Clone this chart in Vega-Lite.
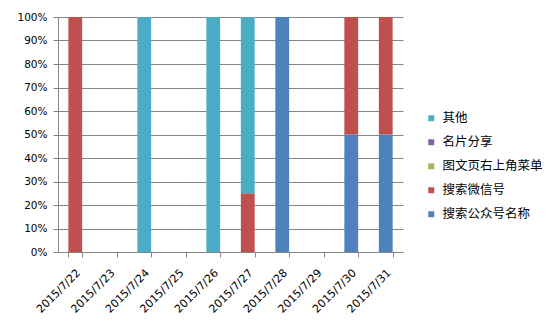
{
  "$schema": "https://vega.github.io/schema/vega-lite/v6.json",
  "autosize": {"type": "none"},
  "width": 345,
  "height": 235,
  "padding": {"left": 58, "top": 17, "right": 156, "bottom": 82},
  "background": "white",
  "config": {
    "view": {"stroke": null},
    "font": "DejaVu Sans"
  },
  "data": {
    "values": [
      {"date": "2015/7/22", "source": "搜索微信号", "rank": 2, "count": 1},
      {"date": "2015/7/24", "source": "其他", "rank": 5, "count": 1},
      {"date": "2015/7/26", "source": "其他", "rank": 5, "count": 1},
      {"date": "2015/7/27", "source": "搜索微信号", "rank": 2, "count": 1},
      {"date": "2015/7/27", "source": "其他", "rank": 5, "count": 3},
      {"date": "2015/7/28", "source": "搜索公众号名称", "rank": 1, "count": 1},
      {"date": "2015/7/30", "source": "搜索公众号名称", "rank": 1, "count": 1},
      {"date": "2015/7/30", "source": "搜索微信号", "rank": 2, "count": 1},
      {"date": "2015/7/31", "source": "搜索公众号名称", "rank": 1, "count": 1},
      {"date": "2015/7/31", "source": "搜索微信号", "rank": 2, "count": 1}
    ]
  },
  "mark": {"type": "bar"},
  "encoding": {
    "x": {
      "field": "date",
      "type": "ordinal",
      "sort": null,
      "scale": {
        "domain": ["2015/7/22", "2015/7/23", "2015/7/24", "2015/7/25", "2015/7/26", "2015/7/27", "2015/7/28", "2015/7/29", "2015/7/30", "2015/7/31"],
        "paddingInner": 0.6,
        "paddingOuter": 0.3
      },
      "axis": {
        "title": null,
        "labelAngle": -45,
        "labelAlign": "right",
        "labelBaseline": "middle",
        "labelFontSize": 11,
        "labelColor": "#000000",
        "labelPadding": 14,
        "labelOffset": 3,
        "tickBand": "extent",
        "tickSize": 5,
        "tickColor": "#868686",
        "domainColor": "#868686",
        "grid": false
      }
    },
    "y": {
      "field": "count",
      "type": "quantitative",
      "stack": "normalize",
      "scale": {"domain": [0, 1]},
      "axis": {
        "title": null,
        "format": ".0%",
        "values": [0, 0.1, 0.2, 0.3, 0.4, 0.5, 0.6, 0.7, 0.8, 0.9, 1],
        "labelFontSize": 10.5,
        "labelColor": "#000000",
        "labelPadding": 6,
        "tickSize": 5,
        "tickColor": "#868686",
        "domainColor": "#868686",
        "grid": true,
        "gridColor": "#868686",
        "gridOpacity": 1
      }
    },
    "color": {
      "field": "source",
      "type": "nominal",
      "scale": {
        "domain": ["其他", "名片分享", "图文页右上角菜单", "搜索微信号", "搜索公众号名称"],
        "range": ["#4BACC6", "#8064A2", "#9BBB59", "#C0504D", "#4F81BD"]
      },
      "legend": {
        "title": null,
        "orient": "none",
        "legendX": 367,
        "legendY": 95,
        "padding": 0,
        "symbolType": "square",
        "symbolSize": 36,
        "symbolStrokeWidth": 0,
        "labelFont": "Noto Sans CJK SC",
        "labelFontSize": 12.5,
        "labelColor": "#000000",
        "labelOffset": 5,
        "rowPadding": 11
      }
    },
    "order": {"field": "rank", "type": "quantitative", "sort": "ascending"}
  }
}
